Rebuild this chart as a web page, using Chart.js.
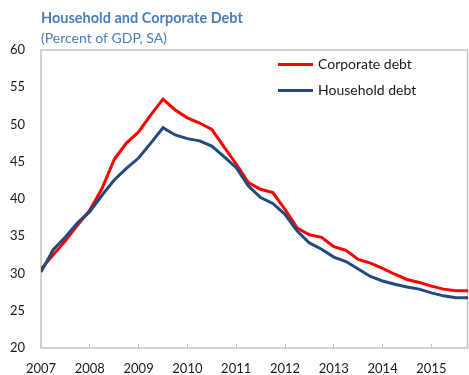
<!DOCTYPE html>
<html>
<head>
<meta charset="utf-8">
<script src="https://cdn.jsdelivr.net/npm/chart.js@4.4.1/dist/chart.umd.min.js"></script>
<style>
html,body{margin:0;padding:0;background:#fff;}
#wrap{width:469px;height:375px;}
</style>
</head>
<body>
<div id="wrap"><canvas id="c" width="469" height="375"></canvas></div>
<script>
// ---- data ----
const titleText = 'Household and Corporate Debt';
const subtitleText = '(Percent of GDP, SA)';
const quarters = [
 '2007Q1','2007Q2','2007Q3','2007Q4','2008Q1','2008Q2','2008Q3','2008Q4',
 '2009Q1','2009Q2','2009Q3','2009Q4','2010Q1','2010Q2','2010Q3','2010Q4',
 '2011Q1','2011Q2','2011Q3','2011Q4','2012Q1','2012Q2','2012Q3','2012Q4',
 '2013Q1','2013Q2','2013Q3','2013Q4','2014Q1','2014Q2','2014Q3','2014Q4',
 '2015Q1','2015Q2','2015Q3','2015Q4'];
const corporateDebt = [30.6,32.5,34.4,36.5,38.5,41.4,45.3,47.5,49.0,51.3,53.4,51.95,
 50.9,50.2,49.35,47.0,44.7,42.2,41.3,40.85,38.6,36.1,35.2,34.85,
 33.6,33.1,31.9,31.4,30.7,29.9,29.2,28.8,28.3,27.9,27.7,27.7];
const householdDebt = [30.2,33.2,34.9,36.8,38.3,40.5,42.55,44.1,45.5,47.5,49.57,48.6,
 48.1,47.8,47.1,45.7,44.2,41.75,40.2,39.4,37.95,35.7,34.1,33.25,
 32.2,31.6,30.6,29.6,29.0,28.55,28.2,27.9,27.4,27.0,26.75,26.75];
const seriesNames = ['Corporate debt','Household debt'];
const yearTicks = [2007,2008,2009,2010,2011,2012,2013,2014,2015];
const yMin = 20, yMax = 60, yStep = 5;

// quarter label -> decimal year
function qToX(q){ return parseInt(q.slice(0,4),10) + (parseInt(q.slice(5),10)-1)/4; }
function toPoints(vals){ return quarters.map((q,i)=>({x:qToX(q), y:vals[i]})); }

Chart.defaults.font.family = 'Lato, "Liberation Sans", sans-serif';
Chart.defaults.color = '#1a1a1a';

const boxPlugin = {
  id:'box',
  beforeDatasetsDraw(chart){
    const {ctx, chartArea:a} = chart;
    ctx.save();
    ctx.strokeStyle = '#c4c4c4';
    ctx.lineWidth = 1.5;
    ctx.strokeRect(a.left, a.top, a.right - a.left - 0.5, a.bottom - a.top);
    ctx.restore();
  }
};

const legendPlugin = {
  id:'insideLegend',
  afterDatasetsDraw(chart){
    const {ctx, chartArea:a} = chart;
    const x0 = a.left + 237, len = 35, gap = 5;
    const ys = [a.top + 14.5, a.top + 40.5];
    ctx.save();
    chart.data.datasets.forEach((ds,i)=>{
      const y = ys[i];
      ctx.strokeStyle = ds.borderColor;
      ctx.lineWidth = 3;
      ctx.beginPath(); ctx.moveTo(x0, y); ctx.lineTo(x0+len, y); ctx.stroke();
      ctx.fillStyle = '#1a1a1a';
      ctx.font = '14px Lato, sans-serif';
      ctx.textBaseline = 'middle';
      ctx.textAlign = 'left';
      ctx.fillText(ds.label, x0 + len + gap, y);
    });
    ctx.restore();
  }
};

new Chart(document.getElementById('c'), {
  type:'line',
  data:{
    datasets:[
      {label:seriesNames[0], data:toPoints(corporateDebt), borderColor:'#ff0000', backgroundColor:'#ff0000',
       borderWidth:3, pointRadius:0, tension:0, order:1},
      {label:seriesNames[1], data:toPoints(householdDebt), borderColor:'#234a7e', backgroundColor:'#234a7e',
       borderWidth:3, pointRadius:0, tension:0, order:0}
    ]
  },
  plugins:[boxPlugin, legendPlugin],
  options:{
    responsive:false,
    animation:false,
    devicePixelRatio:1,
    layout:{padding:{top:0,left:0,right:1,bottom:0}},
    plugins:{
      legend:{display:false},
      tooltip:{enabled:false},
      title:{display:true, text:titleText, align:'start', fullSize:false,
        color:'#4a7ebb', font:{size:14.5, weight:'bold', lineHeight:1.2}, padding:{top:9.5, bottom:0}},
      subtitle:{display:true, text:subtitleText, align:'start', fullSize:false,
        color:'#4a7ebb', font:{size:14, weight:'normal', lineHeight:1.2}, padding:{top:2.7, bottom:3.6}}
    },
    scales:{
      x:{
        type:'linear',
        min:qToX(quarters[0]), max:qToX(quarters[quarters.length-1]),
        afterBuildTicks(s){ s.ticks = yearTicks.map(v=>({value:v})); },
        afterFit(s){ s.height = 27; },
        ticks:{autoSkip:false, maxRotation:0, padding:17, font:{size:13},
          callback:(v)=>String(v)},
        grid:{display:true, drawOnChartArea:false, drawTicks:true, tickLength:-4, tickColor:'#c4c4c4', tickWidth:1},
        border:{display:false}
      },
      y:{
        min:yMin, max:yMax,
        afterFit(s){ s.width = 41; },
        ticks:{stepSize:yStep, padding:16, font:{size:13}},
        grid:{display:false, drawTicks:false},
        border:{display:false}
      }
    }
  }
});
</script>
</body>
</html>
